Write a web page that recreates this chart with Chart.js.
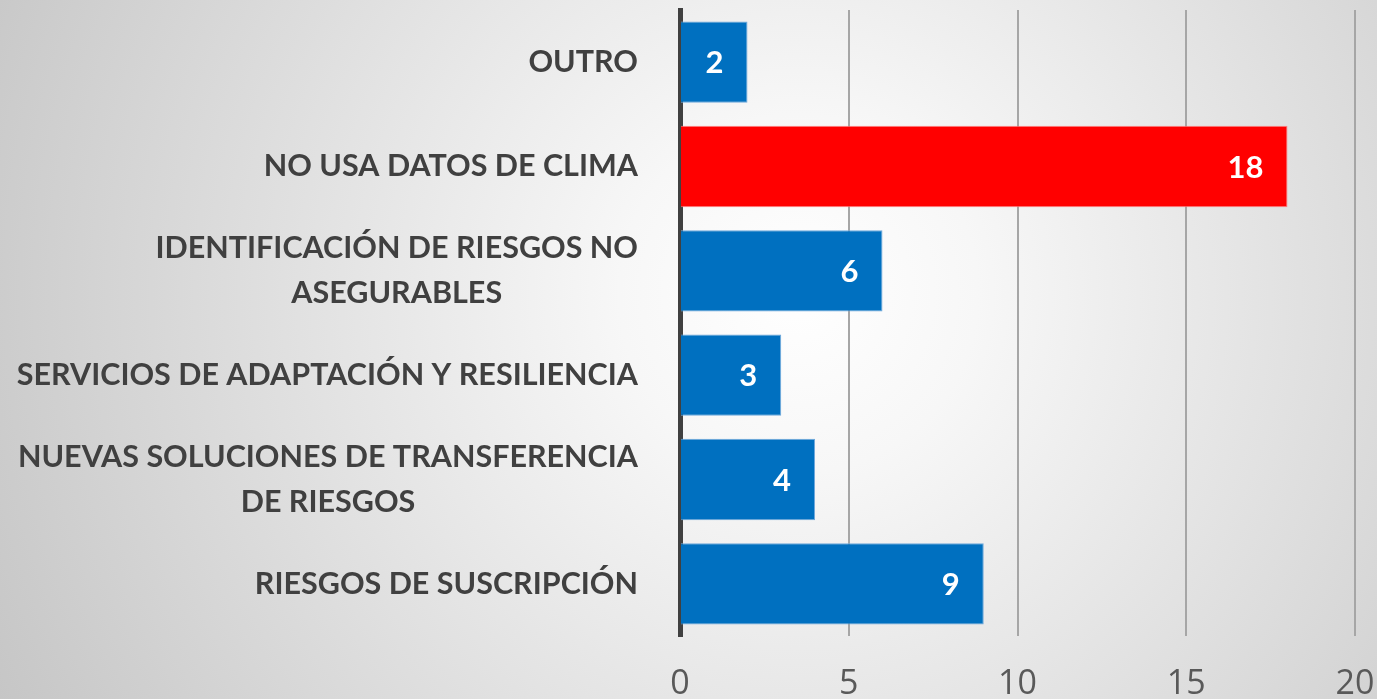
<!DOCTYPE html>
<html>
<head>
<meta charset="utf-8">
<script src="https://cdn.jsdelivr.net/npm/chart.js@4"></script>
<style>
  html, body { margin: 0; padding: 0; }
  body {
    width: 1377px;
    height: 699px;
    overflow: hidden;
    background: radial-gradient(circle farthest-corner at 58% 42%, #ffffff 0%, #f7f7f7 20%, #c6c6c6 100%);
  }
  #wrap { position: relative; width: 1377px; height: 699px; }
</style>
</head>
<body>
<div id="wrap"><canvas id="c"></canvas></div>
<script>
// Data
const categories = [
  ["OUTRO"],
  ["NO USA DATOS DE CLIMA"],
  ["IDENTIFICACIÓN DE RIESGOS NO", "ASEGURABLES"],
  ["SERVICIOS DE ADAPTACIÓN Y RESILIENCIA"],
  ["NUEVAS SOLUCIONES DE TRANSFERENCIA", "DE RIESGOS"],
  ["RIESGOS DE SUSCRIPCIÓN"],
];
const values = [2, 18, 6, 3, 4, 9];
const barColors = ["#0070C0", "#FF0000", "#0070C0", "#0070C0", "#0070C0", "#0070C0"];
const barBorders = ["#6FA8DC", "#FF8080", "#6FA8DC", "#6FA8DC", "#6FA8DC", "#6FA8DC"];
const xTicks = [0, 5, 10, 15, 20];

const labelFont = "bold 30.5px Lato";
const labelRight = 638;

// category labels: block right-aligned, lines centered in the block
const catLabels = {
  id: "catLabels",
  afterDraw(chart) {
    const { ctx } = chart;
    const y = chart.scales.y;
    ctx.save();
    ctx.font = labelFont;
    ctx.fillStyle = "#404040";
    ctx.textBaseline = "middle";
    ctx.textAlign = "center";
    const lh = 45;
    categories.forEach((lines, i) => {
      const cy = y.getPixelForTick(i);
      const w = Math.max(...lines.map((l) => ctx.measureText(l).width));
      const cx = labelRight - w / 2;
      const y0 = cy - ((lines.length - 1) * lh) / 2;
      lines.forEach((l, k) => ctx.fillText(l, cx, y0 + k * lh));
    });
    ctx.restore();
  },
};

// value labels inside bar end
const valueLabels = {
  id: "valueLabels",
  afterDatasetsDraw(chart) {
    const { ctx } = chart;
    const meta = chart.getDatasetMeta(0);
    ctx.save();
    ctx.font = "bold 31px Lato";
    ctx.fillStyle = "#ffffff";
    ctx.textBaseline = "middle";
    ctx.textAlign = "right";
    meta.data.forEach((bar, i) => {
      ctx.fillText(String(values[i]), bar.x - 24, bar.y + 1);
    });
    ctx.restore();
  },
};

new Chart(document.getElementById("c"), {
  type: "bar",
  data: {
    labels: categories.map((l) => l.join(" ")),
    datasets: [
      {
        data: values,
        backgroundColor: barColors,
        borderColor: barBorders,
        borderWidth: 1,
        borderSkipped: "left",
        barPercentage: 0.78,
        categoryPercentage: 1,
      },
    ],
  },
  options: {
    indexAxis: "y",
    responsive: true,
    maintainAspectRatio: false,
    animation: false,
    layout: { padding: { left: 680, right: 22, top: 10, bottom: -33 } },
    scales: {
      x: {
        min: 0,
        max: 20,
        afterBuildTicks: (axis) => {
          axis.ticks = xTicks.map((v) => ({ value: v }));
        },
        afterFit: (axis) => {
          axis.paddingRight = 0;
        },
        grid: {
          drawTicks: false,
          color: (c) => (c.index === 0 ? "rgba(0,0,0,0)" : "#a6a6a6"),
          lineWidth: 2,
        },
        border: { display: false },
        ticks: {
          color: "#595959",
          font: { family: "Open Sans", size: 34, lineHeight: 1 },
          padding: 31,
        },
      },
      y: {
        grid: { display: false, drawTicks: false },
        border: { display: true, color: "#404040", width: 5 },
        ticks: { display: false },
      },
    },
    plugins: {
      legend: { display: false },
      tooltip: { enabled: false },
    },
  },
  plugins: [catLabels, valueLabels],
});
</script>
</body>
</html>
